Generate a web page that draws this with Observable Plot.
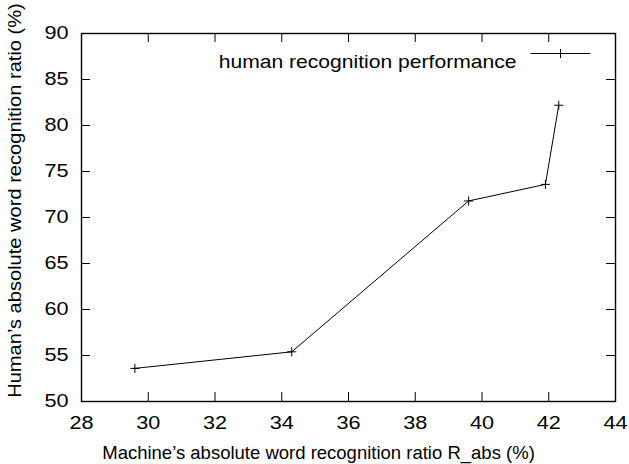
<!DOCTYPE html>
<html>
<head>
<meta charset="utf-8">
<script src="https://cdn.jsdelivr.net/npm/d3@7"></script>
<script src="https://cdn.jsdelivr.net/npm/@observablehq/plot@0.6"></script>
<style>
  html, body { margin: 0; padding: 0; background: #fff; }
  #chart svg { display: block; }
</style>
</head>
<body>
<div id="chart"></div>
<script>
// Data
const machineRatio = [29.6, 34.3, 39.6, 41.9, 42.3];
const humanRatio   = [53.6, 55.4, 71.8, 73.6, 82.2];
const seriesName = "human recognition performance";
const xTicks = [28, 30, 32, 34, 36, 38, 40, 42, 44];
const yTicks = [50, 55, 60, 65, 70, 75, 80, 85, 90];
const xLabel = "Machine’s absolute word recognition ratio R_abs (%)";
const yLabel = "Human’s absolute word recognition ratio (%)";

const data = machineRatio.map((x, i) => ({x, y: humanRatio[i]}));

const W = 629, H = 464;
const mL = 81, mR = 14, mT = 33, mB = 63;
const innerW = W - mL - mR, innerH = H - mT - mB;
const tickLen = 9;
const fs = 18.5;

// thin "+" cross symbol (gnuplot point type 1)
const crossSymbol = {
  draw(ctx, size) {
    const r = Math.sqrt(size / Math.PI);
    ctx.moveTo(-r, 0); ctx.lineTo(r, 0);
    ctx.moveTo(0, -r); ctx.lineTo(0, r);
  }
};
// legend sample: a horizontal line with a cross in the middle
const legendSymbol = {
  draw(ctx, size) {
    const r = Math.sqrt(size / Math.PI);
    ctx.moveTo(-30, 0); ctx.lineTo(30, 0);
    ctx.moveTo(-r, 0); ctx.lineTo(r, 0);
    ctx.moveTo(0, -r); ctx.lineTo(0, r);
  }
};

const font = "'Liberation Sans', Arial, Helvetica, sans-serif";

const chart = Plot.plot({
  width: W,
  height: H,
  marginLeft: mL,
  marginRight: mR,
  marginTop: mT,
  marginBottom: mB,
  style: {fontFamily: font, fontSize: fs + "px", color: "#000", background: "#fff"},
  x: {domain: [28, 44]},
  y: {domain: [50, 90]},
  marks: [
    // inward ticks on all four sides
    Plot.ruleX(xTicks, {x: d => d, insetTop: innerH - tickLen, stroke: "#000", strokeWidth: 1}),
    Plot.ruleX(xTicks, {x: d => d, insetBottom: innerH - tickLen, stroke: "#000", strokeWidth: 1}),
    Plot.ruleY(yTicks, {y: d => d, insetRight: innerW - tickLen, stroke: "#000", strokeWidth: 1}),
    Plot.ruleY(yTicks, {y: d => d, insetLeft: innerW - tickLen, stroke: "#000", strokeWidth: 1}),
    Plot.frame({stroke: "#000", strokeWidth: 1.4}),
    Plot.axisX(xTicks, {anchor: "bottom", tickSize: 0, tickPadding: 14, label: null, fontSize: fs}),
    Plot.axisY(yTicks, {anchor: "left", tickSize: 0, tickPadding: 13, label: null, fontSize: fs}),
    Plot.text([xLabel], {frameAnchor: "bottom", dx: -30, dy: 57, fontSize: fs, textAnchor: "middle", lineAnchor: "bottom"}),
    Plot.text([yLabel], {frameAnchor: "left", dx: -66, dy: -17, rotate: -90, fontSize: fs, textAnchor: "middle", lineAnchor: "middle"}),
    Plot.line(data, {x: "x", y: "y", stroke: "#000", strokeWidth: 1}),
    Plot.dot(data, {x: "x", y: "y", symbol: crossSymbol, r: 4.5, stroke: "#000", strokeWidth: 1, fill: "none"}),
    // legend
    Plot.text([seriesName], {frameAnchor: "top-right", dx: -99, dy: 21, textAnchor: "end", fontSize: fs}),
    Plot.dot([seriesName], {frameAnchor: "top-right", dx: -55, dy: 20, symbol: legendSymbol, r: 4.5, stroke: "#000", strokeWidth: 1, fill: "none"})
  ]
});
document.getElementById("chart").appendChild(chart);

// The reference's lettering is slightly wider than Liberation Sans: stretch glyphs horizontally
function stretch(sel, factor) {
  sel.each(function () {
    const L = this.getComputedTextLength();
    if (L > 0) {
      this.setAttribute("textLength", (L * factor).toFixed(1));
      this.setAttribute("lengthAdjust", "spacingAndGlyphs");
    }
  });
}
const svg = d3.select(chart);
stretch(svg.selectAll("g[aria-label='x-axis tick label'] text, g[aria-label='y-axis tick label'] text"), 1.17);
stretch(svg.selectAll("text").filter(function () { return this.textContent === seriesName; }), 1.14);
stretch(svg.selectAll("text").filter(function () { return this.textContent === yLabel; }), 1.085);
</script>
</body>
</html>
